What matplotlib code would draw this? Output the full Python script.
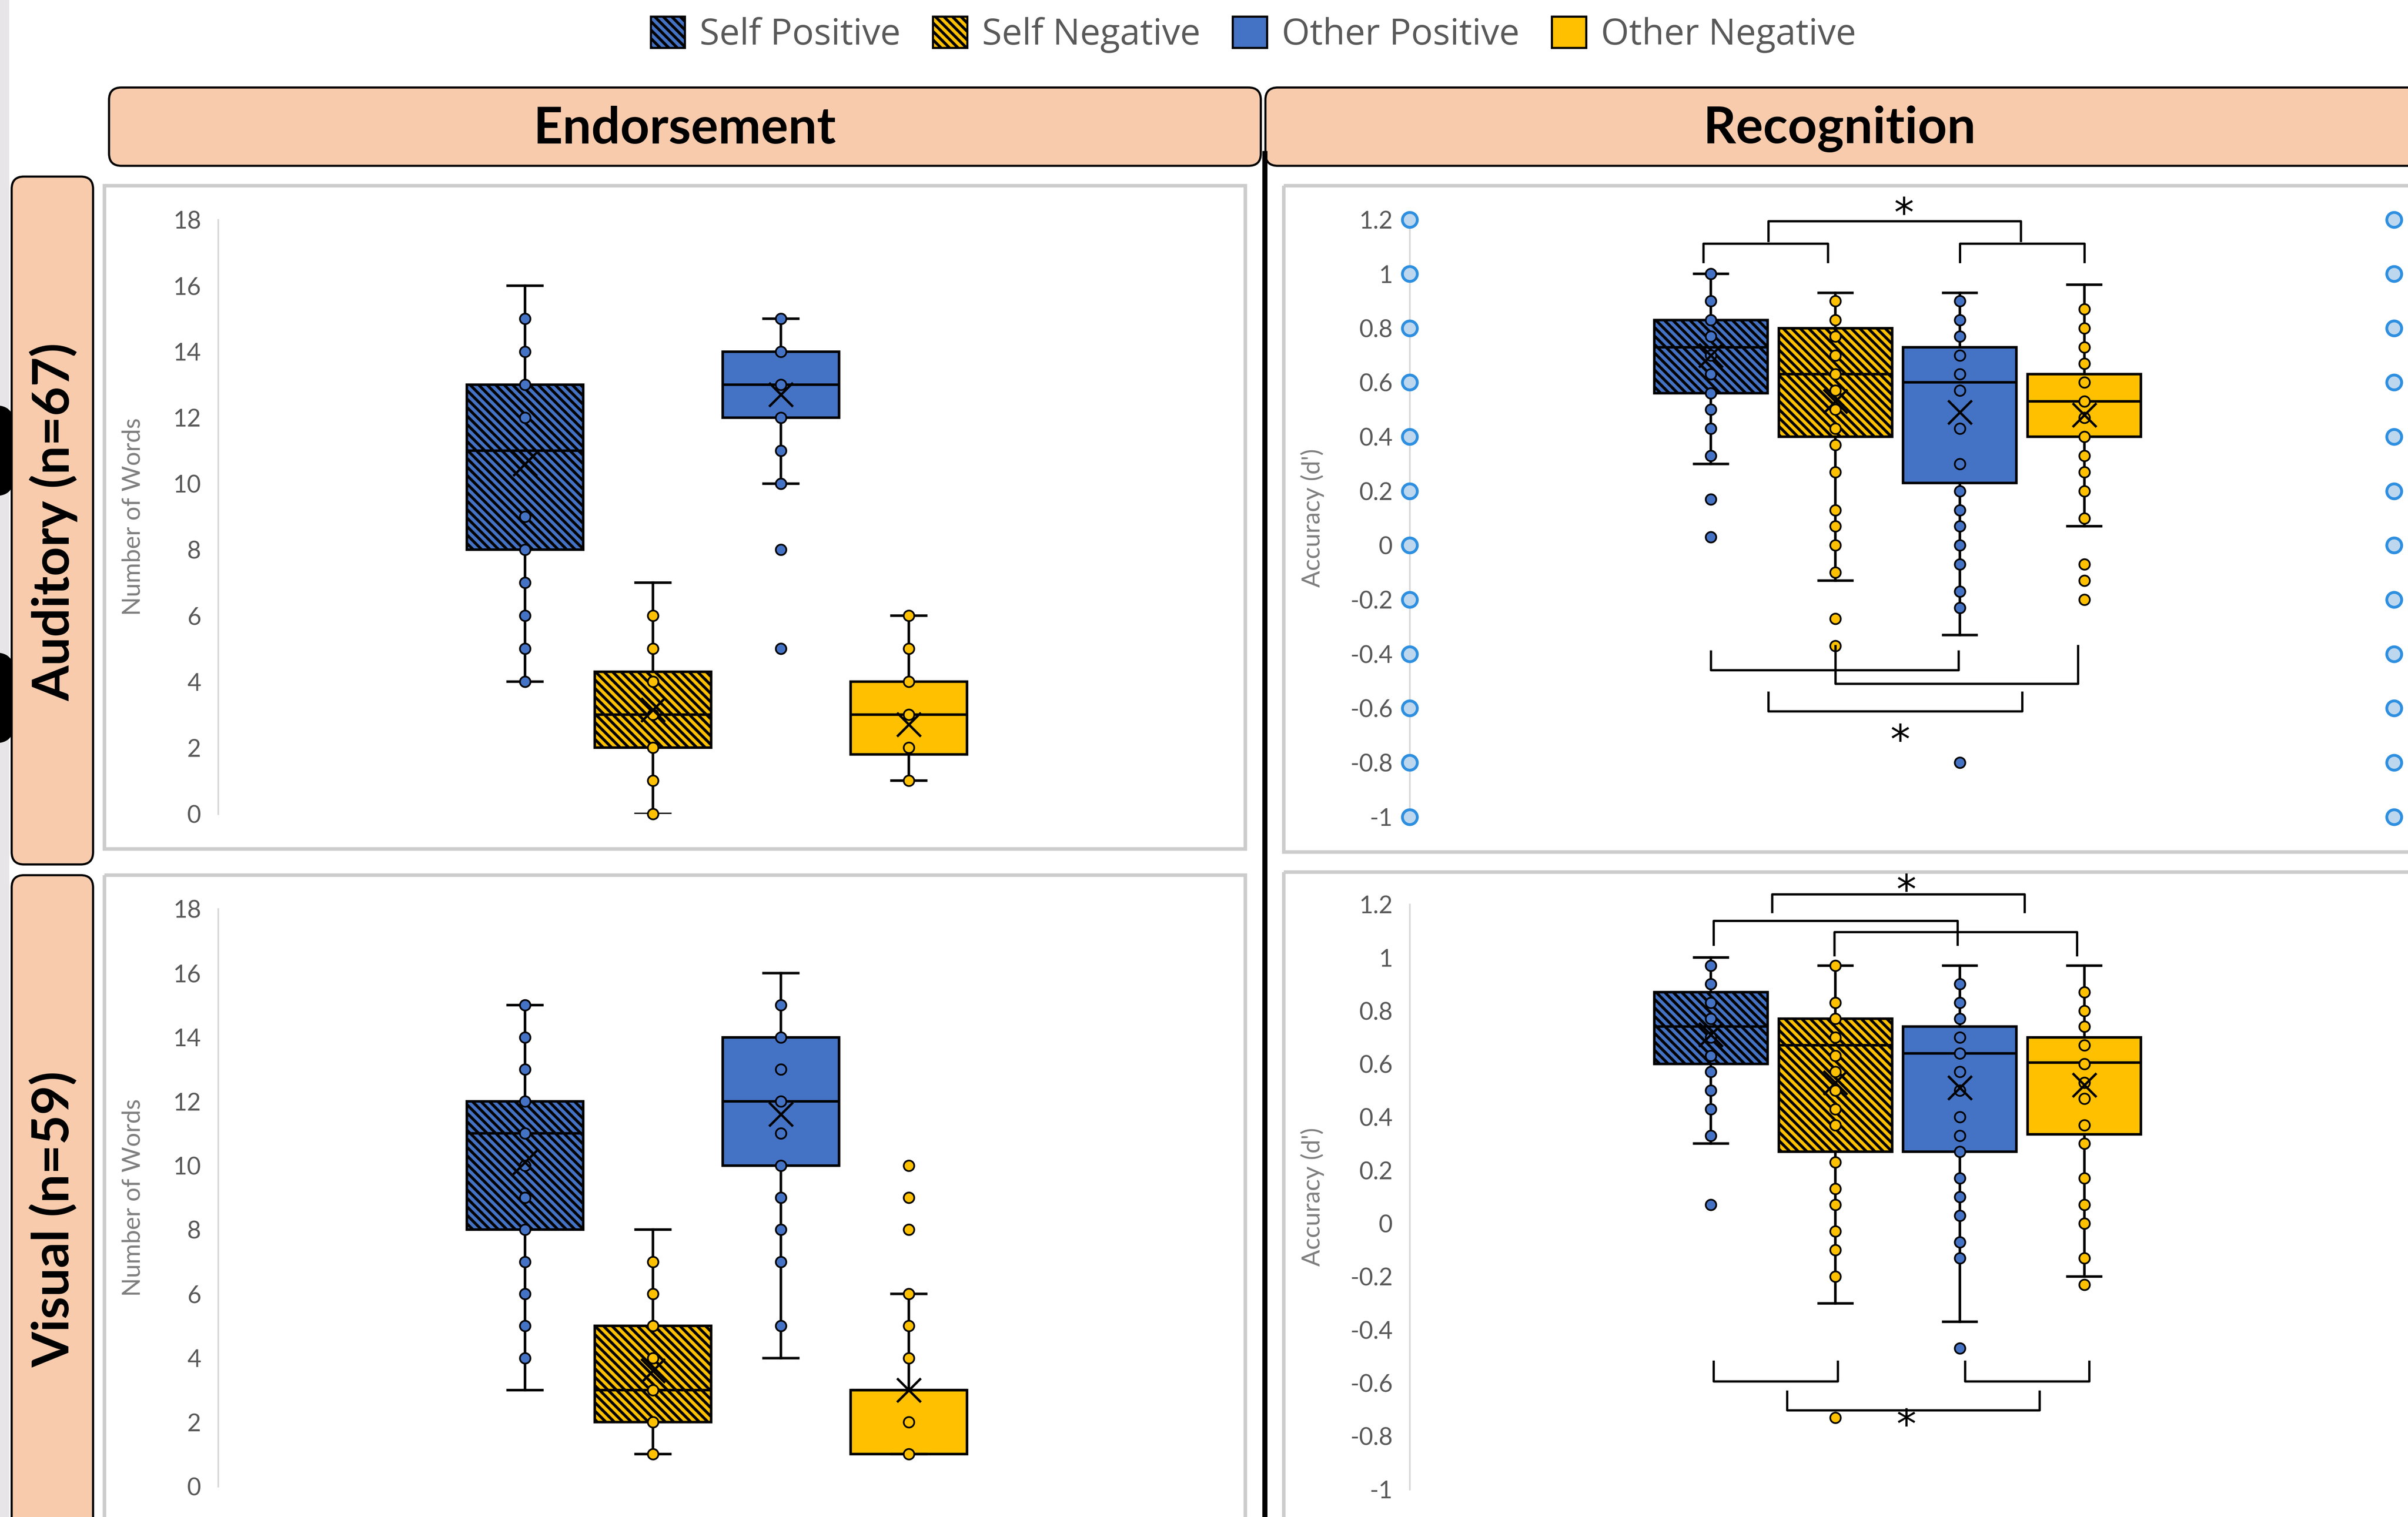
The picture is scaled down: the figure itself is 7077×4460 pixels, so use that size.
import numpy as np
import matplotlib.pyplot as plt
from matplotlib.patches import Patch, FancyBboxPatch, Rectangle

plt.rcParams['font.family'] = ['Lato', 'DejaVu Sans']
plt.rcParams['hatch.linewidth'] = 2.0
plt.rcParams['hatch.color'] = 'black'

# groups shown in every panel
groups = ["Self Positive", "Self Negative", "Other Positive", "Other Negative"]
face_colors = ["#4472C4", "#FFC000", "#4472C4", "#FFC000"]
hatches = ["\\\\\\\\", "\\\\\\\\", None, None]

# Auditory - Endorsement (number of words)
aud_end_q1 = [8, 2, 12, 1.8]
aud_end_med = [11, 3, 13, 3]
aud_end_q3 = [13, 4.3, 14, 4]
aud_end_lo = [4, 0, 10, 1]
aud_end_hi = [16, 7, 15, 6]
aud_end_mean = [10.6, 3.15, 12.7, 2.7]
aud_end_sp = [4, 5, 6, 7, 8, 9, 12, 13, 14, 15]
aud_end_sn = [0, 1, 2, 3, 4, 5, 6]
aud_end_op = [5, 8, 10, 11, 12, 13, 14, 15]
aud_end_on = [1, 2, 3, 4, 5, 6]

# Visual - Endorsement (number of words)
vis_end_q1 = [8, 2, 10, 1]
vis_end_med = [11, 3, 12, 3]
vis_end_q3 = [12, 5, 14, 3]
vis_end_lo = [3, 1, 4, 1]
vis_end_hi = [15, 8, 16, 6]
vis_end_mean = [10.1, 3.6, 11.6, 3.0]
vis_end_sp = [4, 5, 6, 7, 8, 9, 10, 11, 12, 13, 14, 15]
vis_end_sn = [1, 2, 3, 4, 5, 6, 7]
vis_end_op = [5, 7, 8, 9, 10, 11, 12, 13, 14, 15]
vis_end_on = [1, 2, 4, 5, 6, 8, 9, 10]

# Auditory - Recognition (d')
aud_rec_q1 = [0.56, 0.40, 0.23, 0.40]
aud_rec_med = [0.73, 0.63, 0.60, 0.53]
aud_rec_q3 = [0.83, 0.80, 0.73, 0.63]
aud_rec_lo = [0.30, -0.13, -0.33, 0.07]
aud_rec_hi = [1.00, 0.93, 0.93, 0.96]
aud_rec_mean = [0.70, 0.53, 0.49, 0.48]
aud_rec_sp = [1.0, 0.9, 0.83, 0.77, 0.7, 0.63, 0.56, 0.5, 0.43, 0.33, 0.17, 0.03]
aud_rec_sn = [0.9, 0.83, 0.77, 0.7, 0.63, 0.57, 0.5, 0.43, 0.37, 0.27, 0.13, 0.07, 0.0, -0.1, -0.27, -0.37]
aud_rec_op = [0.9, 0.83, 0.77, 0.7, 0.63, 0.57, 0.43, 0.3, 0.2, 0.13, 0.07, 0.0, -0.07, -0.17, -0.23, -0.8]
aud_rec_on = [0.87, 0.8, 0.73, 0.67, 0.6, 0.53, 0.47, 0.4, 0.33, 0.27, 0.2, 0.1, -0.07, -0.13, -0.2]

# Visual - Recognition (d')
vis_rec_q1 = [0.60, 0.27, 0.27, 0.335]
vis_rec_med = [0.74, 0.67, 0.64, 0.605]
vis_rec_q3 = [0.87, 0.77, 0.74, 0.70]
vis_rec_lo = [0.30, -0.30, -0.37, -0.20]
vis_rec_hi = [1.00, 0.97, 0.97, 0.97]
vis_rec_mean = [0.71, 0.53, 0.51, 0.52]
vis_rec_sp = [0.97, 0.9, 0.83, 0.77, 0.7, 0.63, 0.57, 0.5, 0.43, 0.33, 0.07]
vis_rec_sn = [0.97, 0.83, 0.77, 0.7, 0.63, 0.57, 0.5, 0.43, 0.37, 0.23, 0.13, 0.07, -0.03, -0.1, -0.2, -0.73]
vis_rec_op = [0.9, 0.83, 0.77, 0.7, 0.64, 0.57, 0.5, 0.4, 0.33, 0.27, 0.17, 0.1, 0.03, -0.07, -0.13, -0.47]
vis_rec_on = [0.87, 0.8, 0.74, 0.67, 0.6, 0.53, 0.47, 0.37, 0.3, 0.17, 0.07, 0.0, -0.13, -0.23]

# axis ticks
end_ticks = [0, 2, 4, 6, 8, 10, 12, 14, 16, 18]
rec_ticks = [-1, -0.8, -0.6, -0.4, -0.2, 0, 0.2, 0.4, 0.6, 0.8, 1, 1.2]

# significance brackets: (x1, x2, leg end y, bar y)
aud_rec_brackets = [(-0.06, 0.94, 1.044, 1.112), (2.0, 3.0, 1.044, 1.112), (0.46, 2.49, 1.122, 1.194),
                    (0.0, 1.99, -0.391, -0.459), (1.0, 2.95, -0.37, -0.51), (0.46, 2.5, -0.542, -0.611)]
aud_rec_stars = [(1.55, 1.215), (1.52, -0.725)]
vis_rec_brackets = [(0.49, 2.52, 1.172, 1.238), (0.02, 1.98, 1.049, 1.138), (0.99, 2.94, 1.009, 1.096),
                    (0.02, 1.02, -0.52, -0.593), (2.04, 3.04, -0.52, -0.593), (0.61, 2.64, -0.632, -0.702)]
vis_rec_stars = [(1.57, 1.245), (1.57, -0.765)]

positions = np.arange(4)

W, H = 1568, 988


def fa(l, t, r, b):
    return [l / W, 1 - b / H, (r - l) / W, (b - t) / H]


def draw_boxes(ax, q1, med, q3, lo, hi, mean, points):
    stats = [dict(q1=q1[i], med=med[i], q3=q3[i], whislo=lo[i], whishi=hi[i],
                  mean=mean[i], fliers=[]) for i in range(4)]
    bp = ax.bxp(stats, positions=positions, widths=0.91, capwidths=0.27,
                patch_artist=True, showmeans=True, showfliers=False,
                boxprops=dict(edgecolor='black', linewidth=1.8),
                whiskerprops=dict(color='black', linewidth=1.8),
                capprops=dict(color='black', linewidth=1.8),
                medianprops=dict(color='black', linewidth=1.8),
                meanprops=dict(marker='x', markeredgecolor='black', markersize=17,
                               markeredgewidth=1.7, zorder=6))
    for patch, fc, h in zip(bp['boxes'], face_colors, hatches):
        patch.set_facecolor(fc)
        if h:
            patch.set_hatch(h)
    for i, vals in enumerate(points):
        ax.scatter(np.full(len(vals), positions[i]), vals, s=55, c=face_colors[i],
                   edgecolors='black', linewidths=1.2, zorder=5, clip_on=False)


def style_axis(ax, ticks, ylabel, xlim, label_x):
    ax.set_xlim(*xlim)
    ax.set_ylim(ticks[0], ticks[-1])
    ax.set_yticks(ticks, [f"{t:g}" for t in ticks])
    ax.set_xticks([])
    for s in ['top', 'right', 'bottom']:
        ax.spines[s].set_visible(False)
    ax.spines['left'].set_color('#d9d9d9')
    ax.spines['left'].set_linewidth(1.2)
    ax.tick_params(axis='y', length=0, pad=12, labelsize=17, labelcolor='#595959')
    ax.set_ylabel(ylabel, fontsize=17.5, color='#7f7f7f')
    ax.yaxis.set_label_coords(label_x, 0.5)
    ax.patch.set_alpha(0)


def draw_brackets(ax, brackets, stars):
    for x1, x2, y_leg, y_bar in brackets:
        ax.plot([x1, x1, x2, x2], [y_leg, y_bar, y_bar, y_leg], color='black',
                lw=1.6, clip_on=False, zorder=7)
    for x, y in stars:
        ax.text(x, y, '*', ha='center', va='center', fontsize=28, color='black',
                family='DejaVu Sans')


fig = plt.figure(figsize=(7077 / 300, 4460 / 300), dpi=300)

# background layout layer in preview-pixel units
bg = fig.add_axes([0, 0, 1, 1])
bg.set_xlim(0, W)
bg.set_ylim(H, 0)
bg.axis('off')

bg.add_patch(Rectangle((0, 0), 6, H, color='#e7e5e7', lw=0))
for yb in [264, 425]:
    bg.add_patch(FancyBboxPatch((-20, yb), 29, 59, boxstyle='round,pad=0,rounding_size=12',
                                fc='black', ec='none'))

# panel frames
for (x0, y0, x1, y1) in [(68, 121, 811, 553), (836, 121, 1580, 555),
                         (68, 570, 811, 1000), (836, 568, 1580, 1000)]:
    bg.add_patch(Rectangle((x0, y0), x1 - x0, y1 - y0, fill=False, ec='#cccccc', lw=2.5))

# divider
bg.plot([823.6, 823.6], [100, H], color='black', lw=3.6)

# headers
peach = '#F8CBAD'
bg.add_patch(FancyBboxPatch((71, 57), 750, 51, boxstyle='round,pad=0,rounding_size=8',
                            fc=peach, ec='black', lw=1.5))
bg.add_patch(FancyBboxPatch((824, 57), 760, 51, boxstyle='round,pad=0,rounding_size=8',
                            fc=peach, ec='black', lw=1.5))
bg.add_patch(FancyBboxPatch((7.6, 115), 53, 448, boxstyle='round,pad=0,rounding_size=8',
                            fc=peach, ec='black', lw=1.5))
bg.add_patch(FancyBboxPatch((7.6, 570), 53, 440, boxstyle='round,pad=0,rounding_size=8',
                            fc=peach, ec='black', lw=1.5))
bg.text(446, 84, "Endorsement", ha='center', va='center', fontsize=36, fontweight='bold')
bg.text(1198, 84, "Recognition", ha='center', va='center', fontsize=36, fontweight='bold')
bg.text(35, 340, "Auditory (n=67)", ha='center', va='center', rotation=90, fontsize=36,
        fontweight='bold')
bg.text(35, 794, "Visual (n=59)", ha='center', va='center', rotation=90, fontsize=36,
        fontweight='bold')

end_xlim = (-2.4, 5.5)
rec_xlim = (-2.42, 5.49)

ax_ae = fig.add_axes(fa(142, 143, 800, 530))
draw_boxes(ax_ae, aud_end_q1, aud_end_med, aud_end_q3, aud_end_lo, aud_end_hi, aud_end_mean,
           [aud_end_sp, aud_end_sn, aud_end_op, aud_end_on])
style_axis(ax_ae, end_ticks, "Number of Words", end_xlim, -0.073)

ax_ar = fig.add_axes(fa(918, 143, 1559, 532))
draw_boxes(ax_ar, aud_rec_q1, aud_rec_med, aud_rec_q3, aud_rec_lo, aud_rec_hi, aud_rec_mean,
           [aud_rec_sp, aud_rec_sn, aud_rec_op, aud_rec_on])
style_axis(ax_ar, rec_ticks, "Accuracy (d')", rec_xlim, -0.087)
draw_brackets(ax_ar, aud_rec_brackets, aud_rec_stars)
for xe in rec_xlim:
    ax_ar.scatter(np.full(len(rec_ticks), xe), rec_ticks, s=110, c='#BDD7EE',
                  edgecolors='#2E8FE0', linewidths=2.0, zorder=5, clip_on=False)

ax_ve = fig.add_axes(fa(142, 592, 800, 968))
draw_boxes(ax_ve, vis_end_q1, vis_end_med, vis_end_q3, vis_end_lo, vis_end_hi, vis_end_mean,
           [vis_end_sp, vis_end_sn, vis_end_op, vis_end_on])
style_axis(ax_ve, end_ticks, "Number of Words", end_xlim, -0.073)

ax_vr = fig.add_axes(fa(918, 589, 1559, 970))
draw_boxes(ax_vr, vis_rec_q1, vis_rec_med, vis_rec_q3, vis_rec_lo, vis_rec_hi, vis_rec_mean,
           [vis_rec_sp, vis_rec_sn, vis_rec_op, vis_rec_on])
style_axis(ax_vr, rec_ticks, "Accuracy (d')", rec_xlim, -0.087)
draw_brackets(ax_vr, vis_rec_brackets, vis_rec_stars)

# legend
handles = [Patch(facecolor=fc, edgecolor='black', hatch=h, linewidth=1.5)
           for fc, h in zip(face_colors, hatches)]
fig.legend(handles, groups, loc='center', bbox_to_anchor=(0.5205, 0.977), ncol=4,
           frameon=False, prop={'family': 'Open Sans', 'size': 25.5}, labelcolor='#595959',
           handlelength=0.95, handleheight=0.95, handletextpad=0.4, columnspacing=0.9)

fig.savefig("out.png", dpi=300)
